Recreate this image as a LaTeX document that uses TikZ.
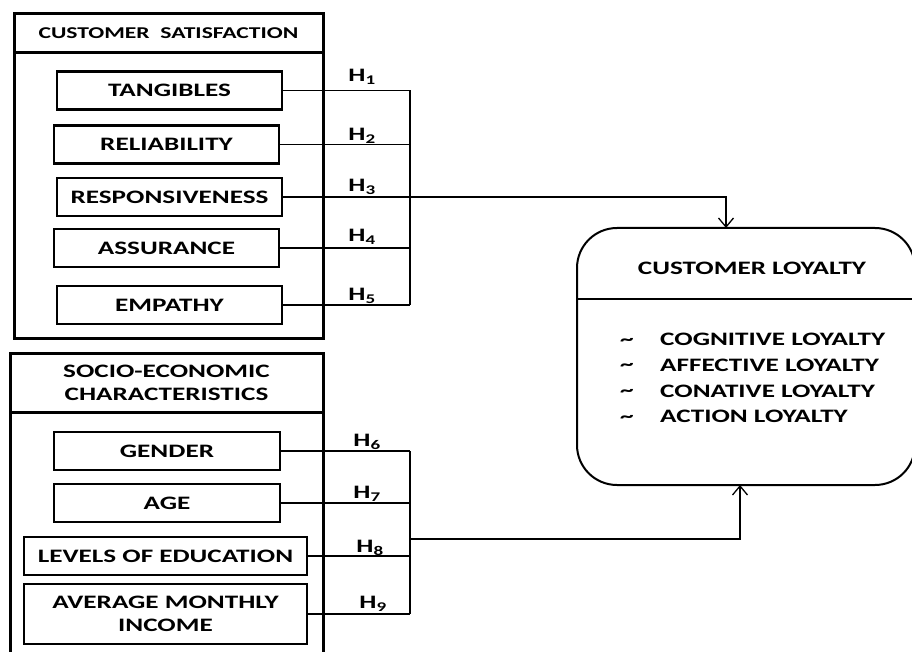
\documentclass[tikz,border=0pt]{standalone}
\usepackage{fontspec}
\setmainfont{Carlito}[FakeStretch=1.43]
\usetikzlibrary{arrows.meta}
\begin{document}
\begin{tikzpicture}[x=1pt,y=-1pt,
  font=\fontsize{19}{23}\selectfont\bfseries,
  group/.style={draw, line width=3pt, inner sep=0pt, align=center},
  item/.style={draw, line width=2.6pt, minimum width=225pt, minimum height=38pt, inner sep=0pt, align=center},
  link/.style={line width=1.3pt},
  hyp/.style={inner sep=0pt},
  tip/.style={-{Straight Barb[length=9pt,width=15pt,line width=1.3pt]}}]
\useasboundingbox (0,0) rectangle (912,652);
\node[group, minimum width=309pt, minimum height=285pt] (csbody) at (168.5,195.5) {};
\node[group, minimum width=309pt, minimum height=39pt, font=\fontsize{16.5}{20}\selectfont\bfseries] (cshead) at (168.5,33.5) {CUSTOMER\ \ SATISFACTION};
\node[item] (tang) at (169.5,90.5) {TANGIBLES};
\node[item] (reli) at (166.5,144.5) {RELIABILITY};
\node[item] (resp) at (169.5,197) {RESPONSIVENESS};
\node[item] (assu) at (166.5,248) {ASSURANCE};
\node[item] (empa) at (169.5,305) {EMPATHY};
\node[group, minimum width=313pt, minimum height=258pt] (sebody) at (166.5,541) {};
\node[group, minimum width=313pt, minimum height=59pt] (sehead) at (166.5,382.5) {SOCIO-ECONOMIC\\CHARACTERISTICS};
\node[item, minimum width=226pt] (gend) at (167,451) {GENDER};
\node[item, minimum width=226pt] (age) at (167,503) {AGE};
\node[item, minimum width=283pt] (educ) at (165.5,556) {LEVELS OF EDUCATION};
\node[item, minimum width=283pt, minimum height=60pt] (inco) at (165.5,614) {AVERAGE MONTHLY\\INCOME};
\node[draw, line width=2pt, rounded corners=40pt, minimum width=338pt, minimum height=257pt] (cl) at (746,356.5) {};
\node (cltitle) at (752,268) {CUSTOMER LOYALTY};
\draw[line width=2.5pt] (cl.west |- 0,299) -- (cl.east |- 0,299);
\foreach \txt [count=\i] in {COGNITIVE LOYALTY, AFFECTIVE LOYALTY, CONATIVE LOYALTY, ACTION LOYALTY} {
  \node[anchor=west, inner sep=0pt] (lo\i) at (660,314+25.7*\i) {\txt};
  \node[inner sep=0pt] (ti\i) at (627,316+25.7*\i) {\textasciitilde};
}
\coordinate (csbus) at (410,0);
\coordinate (clin) at (726,228);
\coordinate (clout) at (740,485);
\coordinate (sebus) at (410,539);
\foreach \n in {tang,reli,resp,assu,empa,gend,age,educ,inco}
  \draw[link] (\n.east) -- (\n.east -| csbus);
\draw[link] (tang.east -| csbus) -- (empa.east -| csbus);
\draw[link] (gend.east -| csbus) -- (inco.east -| csbus);
\draw[link, tip] (resp.east -| csbus) -| (clin);
\draw[link, tip] (sebus) -| (clout);
\node[hyp] (h1) at (362,77) {H\textsubscript{1}};
\node[hyp] (h2) at (362,136) {H\textsubscript{2}};
\node[hyp] (h3) at (362,187) {H\textsubscript{3}};
\node[hyp] (h4) at (362,237) {H\textsubscript{4}};
\node[hyp] (h5) at (362,296) {H\textsubscript{5}};
\node[hyp] (h6) at (367,442) {H\textsubscript{6}};
\node[hyp] (h7) at (367,494) {H\textsubscript{7}};
\node[hyp] (h8) at (370,548) {H\textsubscript{8}};
\node[hyp] (h9) at (373,604) {H\textsubscript{9}};
\end{tikzpicture}
\end{document}
